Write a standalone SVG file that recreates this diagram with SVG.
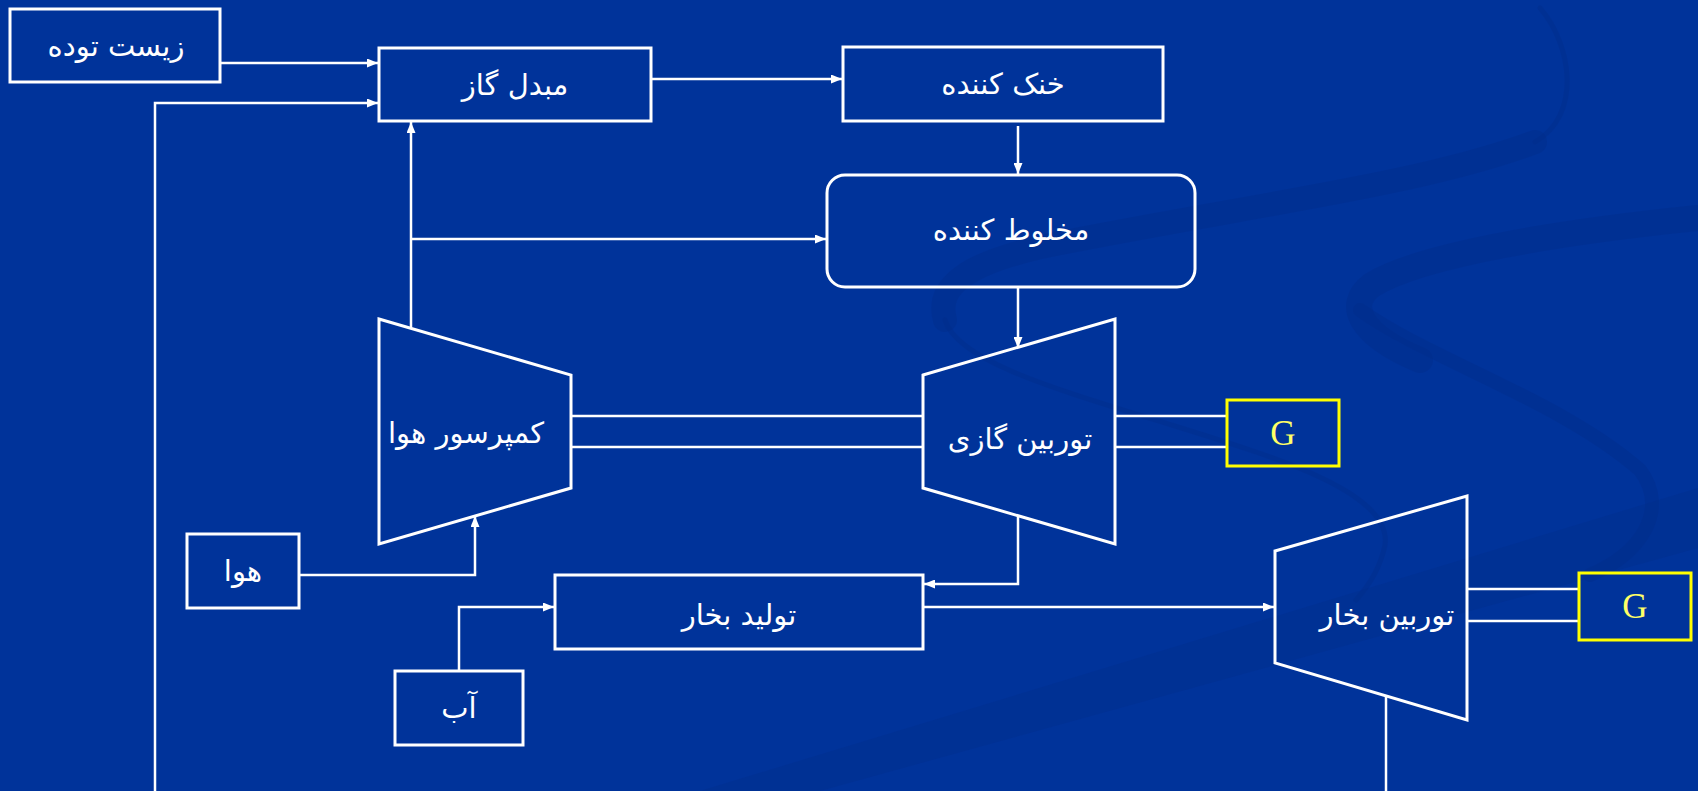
<svg xmlns="http://www.w3.org/2000/svg" width="1698" height="791" viewBox="0 0 1698 791">
<style>
.box{fill:none;stroke:#ffffff;stroke-width:3}
.gbox{fill:none;stroke:#ffff00;stroke-width:3}
.ln{fill:none;stroke:#ffffff;stroke-width:2.5}
.t{font-family:"DejaVu Sans",sans-serif;font-size:29px;fill:#ffffff;text-anchor:middle;direction:rtl}
.g{font-family:"Liberation Serif",serif;font-size:35px;fill:#ffff66;text-anchor:middle}
.sw{fill:none;stroke:#002d8a;stroke-linecap:round;opacity:0.4}
</style>
<defs>
<marker id="ah" markerUnits="userSpaceOnUse" markerWidth="11" markerHeight="9" refX="11" refY="4.5" orient="auto">
<path d="M0,0 L11,4.5 L0,9 z" fill="#ffffff"/>
</marker>
</defs>
<rect x="0" y="0" width="1698" height="791" fill="#00339a"/>
<g id="background">
<path class="sw" stroke-width="5" d="M1540,8 C1572,45 1582,115 1535,142"/>
<path class="sw" stroke-width="24" d="M1535,142 C1420,185 1250,205 1050,245 C970,262 935,285 945,320"/>
<path class="sw" stroke-width="5" d="M945,320 C960,370 1100,400 1250,450 C1340,480 1390,510 1385,545 C1380,570 1365,590 1356,600"/>
<path class="sw" stroke-width="26" d="M1698,218 C1560,232 1420,255 1372,285 C1345,305 1360,335 1420,360"/>
<path class="sw" stroke-width="14" d="M1360,310 C1430,360 1560,400 1640,470 C1670,510 1640,555 1590,575"/>
<path d="M700,791 L1698,488 L1698,548 L820,791 Z" fill="#002d8a" opacity="0.35"/>
</g>
<g id="connectors">
<path class="ln" marker-end="url(#ah)" d="M220,63 H378"/>
<path class="ln" marker-end="url(#ah)" d="M155,791 V103 H378"/>
<path class="ln" marker-end="url(#ah)" d="M411,327 V122"/>
<path class="ln" marker-end="url(#ah)" d="M411,239 H826"/>
<path class="ln" marker-end="url(#ah)" d="M651,79 H842"/>
<path class="ln" marker-end="url(#ah)" d="M1018,126 V174"/>
<path class="ln" marker-end="url(#ah)" d="M1018,287 V348"/>
<path class="ln" d="M571,416 H923 M571,447 H923"/>
<path class="ln" d="M1115,416 H1227 M1115,447 H1227"/>
<path class="ln" marker-end="url(#ah)" d="M299,575 H475 V516"/>
<path class="ln" marker-end="url(#ah)" d="M1018,516 V584 H924"/>
<path class="ln" marker-end="url(#ah)" d="M459,671 V607 H554"/>
<path class="ln" marker-end="url(#ah)" d="M923,607 H1274"/>
<path class="ln" d="M1467,589 H1579 M1467,621 H1579"/>
<path class="ln" d="M1386,696 V791"/>
</g>
<g id="biomass">
<rect class="box" x="10" y="9" width="210" height="73"/>
<text class="t" x="116" y="56">زیست توده</text>
</g>
<g id="gasifier">
<rect class="box" x="379" y="48" width="272" height="73"/>
<text class="t" x="515" y="95">مبدل گاز</text>
</g>
<g id="cooler">
<rect class="box" x="843" y="47" width="320" height="74"/>
<text class="t" x="1003" y="94">خنک کننده</text>
</g>
<g id="mixer">
<rect class="box" x="827" y="175" width="368" height="112" rx="18" ry="18"/>
<text class="t" x="1011" y="240">مخلوط کننده</text>
</g>
<g id="compressor">
<polygon class="box" points="379,319 571,375 571,488 379,544"/>
<text class="t" x="466" y="443">کمپرسور هوا</text>
</g>
<g id="gas-turbine">
<polygon class="box" points="923,375 1115,319 1115,544 923,488"/>
<text class="t" x="1020" y="449">توربین گازی</text>
</g>
<g id="generator1">
<rect class="gbox" x="1227" y="400" width="112" height="66"/>
<text class="g" x="1283" y="445">G</text>
</g>
<g id="air">
<rect class="box" x="187" y="534" width="112" height="74"/>
<text class="t" x="243" y="581">هوا</text>
</g>
<g id="water">
<rect class="box" x="395" y="671" width="128" height="74"/>
<text class="t" x="459" y="718">آب</text>
</g>
<g id="steam-gen">
<rect class="box" x="555" y="575" width="368" height="74"/>
<text class="t" x="739" y="625">تولید بخار</text>
</g>
<g id="steam-turbine">
<polygon class="box" points="1275,551 1467,496 1467,720 1275,663"/>
<text class="t" x="1387" y="625">توربین بخار</text>
</g>
<g id="generator2">
<rect class="gbox" x="1579" y="573" width="112" height="67"/>
<text class="g" x="1635" y="618">G</text>
</g>
</svg>
